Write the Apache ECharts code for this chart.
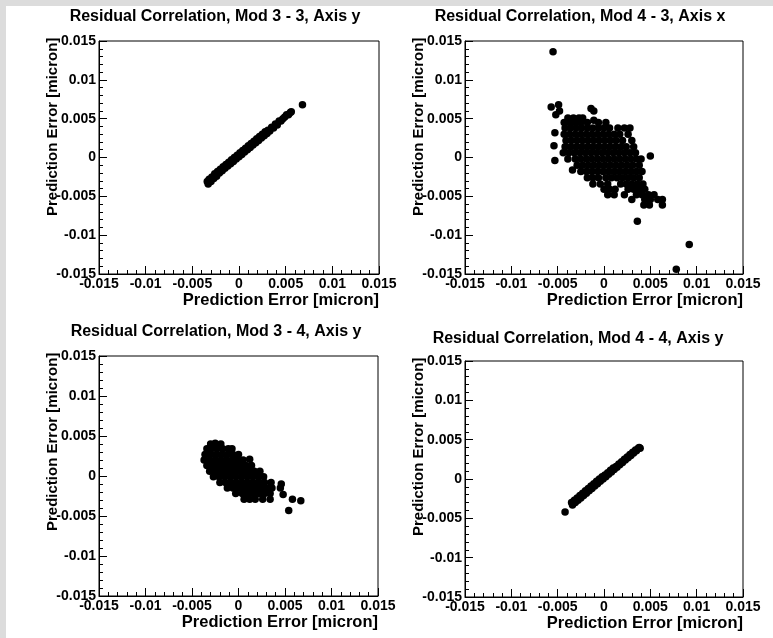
<!DOCTYPE html>
<html><head><meta charset="utf-8">
<script src="https://cdn.jsdelivr.net/npm/echarts@6/dist/echarts.min.js"></script>
<style>html,body{margin:0;padding:0;background:#fff;}#c{width:773px;height:638px;}</style>
</head><body><div id="c"></div>
<script>
var tickLabels = ['-0.015','-0.01','-0.005','0','0.005','0.01','0.015'];
var panelTitles = ['Residual Correlation, Mod 3 - 3, Axis y','Residual Correlation, Mod 4 - 3, Axis x','Residual Correlation, Mod 3 - 4, Axis y','Residual Correlation, Mod 4 - 4, Axis y'];
var axisTitle = 'Prediction Error [micron]';

var mod33y = [[-0.0034,-0.0031],[-0.0033,-0.0034],[-0.0032,-0.0028],[-0.0030,-0.0031],[-0.0029,-0.0025],[-0.0027,-0.0027],[-0.0026,-0.0021],[-0.0024,-0.0024],[-0.0023,-0.0018],[-0.0021,-0.0020],[-0.0020,-0.0015],[-0.0018,-0.0017],[-0.0017,-0.0012],[-0.0015,-0.0014],[-0.0014,-0.0009],[-0.0012,-0.0011],[-0.0011,-0.0006],[-0.0009,-0.0008],[-0.0008,-0.0003],[-0.0006,-0.0005],[-0.0005,0.0000],[-0.0003,-0.0002],[-0.0002,0.0003],[0.0000,0.0001],[0.0001,0.0006],[0.0003,0.0004],[0.0004,0.0009],[0.0006,0.0007],[0.0007,0.0012],[0.0009,0.0010],[0.0010,0.0015],[0.0012,0.0013],[0.0013,0.0018],[0.0015,0.0016],[0.0016,0.0021],[0.0018,0.0019],[0.0019,0.0024],[0.0021,0.0022],[0.0022,0.0027],[0.0024,0.0025],[0.0025,0.0030],[0.0027,0.0028],[0.0028,0.0033],[0.0030,0.0031],[0.0031,0.0035],[0.0033,0.0034],[0.0035,0.0039],[0.0037,0.0038],[0.0039,0.0043],[0.0041,0.0042],[0.0043,0.0047],[0.0045,0.0047],[0.0047,0.0050],[0.0049,0.0052],[0.0051,0.0055],[0.0053,0.0055],[0.0055,0.0058],[0.0056,0.0059],[0.0068,0.0068]];

var mod43x = [[-0.0055,0.0136],[-0.0057,0.0065],[-0.0049,0.0068],[-0.0052,0.0055],[-0.0048,0.0060],[-0.0053,0.0032],[-0.0054,0.0015],[-0.0053,-0.0004],[-0.0014,0.0063],[-0.0011,0.0060],[-0.0011,0.0048],[0.0050,0.0002],[0.0036,-0.0082],[0.0092,-0.0112],[0.0078,-0.0144],[-0.0034,-0.0016],
[-0.0039,0.0051],[-0.0033,0.0051],[-0.0027,0.0051],[-0.0023,0.0051],
[-0.0043,0.0045],[-0.0037,0.0045],[-0.0031,0.0045],[-0.0025,0.0045],[-0.0018,0.0045],[-0.0006,0.0045],[0.0002,0.0045],
[-0.0042,0.0038],[-0.0036,0.0038],[-0.0030,0.0038],[-0.0024,0.0038],[-0.0018,0.0038],[-0.0012,0.0038],[-0.0006,0.0038],[0.0000,0.0038],[0.0006,0.0038],[0.0015,0.0038],[0.0022,0.0038],[0.0028,0.0038],
[-0.0043,0.0030],[-0.0037,0.0030],[-0.0031,0.0030],[-0.0025,0.0030],[-0.0019,0.0030],[-0.0013,0.0030],[-0.0007,0.0030],[-0.0001,0.0030],[0.0005,0.0030],[0.0011,0.0030],[0.0017,0.0030],[0.0026,0.0030],
[-0.0041,0.0022],[-0.0035,0.0022],[-0.0029,0.0022],[-0.0023,0.0022],[-0.0017,0.0022],[-0.0011,0.0022],[-0.0005,0.0022],[0.0001,0.0022],[0.0007,0.0022],[0.0013,0.0022],[0.0020,0.0022],[0.0030,0.0022],
[-0.0042,0.0014],[-0.0036,0.0014],[-0.0030,0.0014],[-0.0024,0.0014],[-0.0018,0.0014],[-0.0012,0.0014],[-0.0006,0.0014],[0.0000,0.0014],[0.0006,0.0014],[0.0012,0.0014],[0.0018,0.0014],[0.0024,0.0014],[0.0032,0.0014],
[-0.0044,0.0006],[-0.0038,0.0006],[-0.0032,0.0006],[-0.0026,0.0006],[-0.0020,0.0006],[-0.0014,0.0006],[-0.0008,0.0006],[-0.0002,0.0006],[0.0004,0.0006],[0.0010,0.0006],[0.0016,0.0006],[0.0022,0.0006],[0.0028,0.0006],[0.0034,0.0006],
[-0.0039,-0.0002],[-0.0031,-0.0002],[-0.0025,-0.0002],[-0.0019,-0.0002],[-0.0013,-0.0002],[-0.0007,-0.0002],[-0.0001,-0.0002],[0.0005,-0.0002],[0.0011,-0.0002],[0.0017,-0.0002],[0.0023,-0.0002],[0.0029,-0.0002],[0.0035,-0.0002],[0.0040,-0.0002],
[-0.0029,-0.0010],[-0.0023,-0.0010],[-0.0017,-0.0010],[-0.0011,-0.0010],[-0.0005,-0.0010],[0.0001,-0.0010],[0.0007,-0.0010],[0.0013,-0.0010],[0.0019,-0.0010],[0.0025,-0.0010],[0.0031,-0.0010],[0.0038,-0.0010],
[-0.0025,-0.0018],[-0.0019,-0.0018],[-0.0013,-0.0018],[-0.0007,-0.0018],[-0.0001,-0.0018],[0.0005,-0.0018],[0.0011,-0.0018],[0.0017,-0.0018],[0.0023,-0.0018],[0.0029,-0.0018],[0.0035,-0.0018],[0.0041,-0.0018],
[-0.0018,-0.0026],[-0.0012,-0.0026],[-0.0006,-0.0026],[0.0002,-0.0026],[0.0008,-0.0026],[0.0014,-0.0026],[0.0020,-0.0026],[0.0026,-0.0026],[0.0032,-0.0026],[0.0038,-0.0026],
[-0.0012,-0.0034],[-0.0004,-0.0034],[0.0004,-0.0034],[0.0018,-0.0034],[0.0024,-0.0034],[0.0030,-0.0034],[0.0036,-0.0034],[0.0042,-0.0034],
[0.0000,-0.0041],[0.0006,-0.0041],[0.0012,-0.0041],[0.0026,-0.0041],[0.0032,-0.0041],[0.0038,-0.0041],[0.0044,-0.0041],
[0.0004,-0.0048],[0.0011,-0.0048],[0.0022,-0.0048],[0.0035,-0.0048],[0.0041,-0.0048],[0.0048,-0.0048],[0.0054,-0.0048],
[0.0030,-0.0054],[0.0044,-0.0054],[0.0050,-0.0054],[0.0058,-0.0054],[0.0063,-0.0054],
[0.0043,-0.0061],[0.0049,-0.0061],[0.0063,-0.0061]];

var mod34y = [[-0.0030,0.0040],[-0.0025,0.0041],[-0.0019,0.0040],
[-0.0034,0.0034],[-0.0029,0.0034],[-0.0023,0.0034],[-0.0017,0.0034],[-0.0011,0.0034],[-0.0007,0.0034],
[-0.0036,0.0027],[-0.0030,0.0027],[-0.0024,0.0027],[-0.0018,0.0027],[-0.0012,0.0027],[-0.0006,0.0027],[0.0000,0.0027],
[-0.0037,0.0020],[-0.0031,0.0020],[-0.0025,0.0020],[-0.0019,0.0020],[-0.0013,0.0020],[-0.0007,0.0020],[-0.0001,0.0020],[0.0005,0.0020],[0.0012,0.0021],
[-0.0034,0.0013],[-0.0028,0.0013],[-0.0022,0.0013],[-0.0016,0.0013],[-0.0010,0.0013],[-0.0004,0.0013],[0.0002,0.0013],[0.0008,0.0013],[0.0014,0.0013],
[-0.0031,0.0006],[-0.0025,0.0006],[-0.0019,0.0006],[-0.0013,0.0006],[-0.0007,0.0006],[-0.0001,0.0006],[0.0005,0.0006],[0.0011,0.0006],[0.0017,0.0006],[0.0023,0.0006],
[-0.0027,-0.0001],[-0.0021,-0.0001],[-0.0015,-0.0001],[-0.0009,-0.0001],[-0.0003,-0.0001],[0.0003,-0.0001],[0.0009,-0.0001],[0.0015,-0.0001],[0.0021,-0.0001],[0.0027,-0.0001],
[-0.0020,-0.0008],[-0.0014,-0.0008],[-0.0008,-0.0008],[-0.0002,-0.0008],[0.0004,-0.0008],[0.0010,-0.0008],[0.0016,-0.0008],[0.0022,-0.0008],[0.0028,-0.0008],[0.0035,-0.0008],
[-0.0012,-0.0015],[-0.0006,-0.0015],[0.0000,-0.0015],[0.0006,-0.0015],[0.0012,-0.0015],[0.0018,-0.0015],[0.0024,-0.0015],[0.0030,-0.0015],[0.0036,-0.0015],[0.0045,-0.0015],
[-0.0003,-0.0022],[0.0004,-0.0022],[0.0010,-0.0022],[0.0016,-0.0022],[0.0022,-0.0022],[0.0028,-0.0022],[0.0034,-0.0022],[0.0048,-0.0023],
[0.0006,-0.0029],[0.0012,-0.0029],[0.0018,-0.0029],[0.0026,-0.0029],[0.0034,-0.0029],[0.0058,-0.0029],
[0.0067,-0.0031],[0.0054,-0.0043],[0.0046,-0.0010]];

var mod44y = [[-0.0042,-0.0042],[-0.0035,-0.0030],[-0.0034,-0.0033],[-0.0032,-0.0027],[-0.0031,-0.0030],[-0.0029,-0.0024],[-0.0028,-0.0027],[-0.0026,-0.0021],[-0.0025,-0.0024],[-0.0023,-0.0018],[-0.0022,-0.0021],[-0.0020,-0.0015],[-0.0019,-0.0018],[-0.0017,-0.0012],[-0.0016,-0.0015],[-0.0014,-0.0009],[-0.0013,-0.0012],[-0.0011,-0.0006],[-0.0010,-0.0009],[-0.0008,-0.0003],[-0.0007,-0.0006],[-0.0005,0.0000],[-0.0004,-0.0003],[-0.0002,0.0003],[-0.0001,0.0000],[0.0001,0.0005],[0.0002,0.0003],[0.0004,0.0008],[0.0005,0.0006],[0.0007,0.0011],[0.0008,0.0009],[0.0010,0.0014],[0.0011,0.0012],[0.0013,0.0016],[0.0014,0.0015],[0.0016,0.0019],[0.0017,0.0018],[0.0019,0.0022],[0.0020,0.0021],[0.0022,0.0025],[0.0023,0.0024],[0.0025,0.0028],[0.0026,0.0027],[0.0028,0.0031],[0.0029,0.0030],[0.0031,0.0034],[0.0032,0.0033],[0.0034,0.0037],[0.0035,0.0036],[0.0037,0.0039],[0.0038,0.0040],[0.0039,0.0039]];

var panelData = [mod33y, mod43x, mod34y, mod44y];
var grids = [
  {left:99, top:41, width:280, height:233},
  {left:465, top:41, width:278, height:233},
  {left:99, top:356, width:279, height:240},
  {left:465, top:361, width:278, height:236}
];
var titlePos = [[210,4],[575,4],[211,319],[573,326]];

var FONT = 'Liberation Sans';
function lbl(v, i){ return tickLabels[i]; }
var opt = {
  backgroundColor:'#fff', animation:false,
  graphic:[
    {type:'rect', shape:{x:0,y:0,width:773,height:6}, style:{fill:'#dcdcdc'}, silent:true},
    {type:'rect', shape:{x:0,y:0,width:6,height:638}, style:{fill:'#dcdcdc'}, silent:true}
  ],
  title:[], grid:[], xAxis:[], yAxis:[], series:[]
};
for (var i=0;i<4;i++){
  var g = grids[i];
  opt.grid.push({left:g.left, top:g.top, width:g.width, height:g.height, show:true, borderColor:'#000', borderWidth:1, backgroundColor:'#fff', containLabel:false, outerBoundsMode:'none'});
  opt.title.push({text:panelTitles[i], left:titlePos[i][0], top:titlePos[i][1], textAlign:'center', textStyle:{fontFamily:FONT, fontSize:16, fontWeight:'bold', color:'#000'}});
  var common = {gridIndex:i, type:'value', min:-0.015, max:0.015, interval:0.005,
    axisLine:{show:true, onZero:false, lineStyle:{color:'#000', width:1}},
    axisTick:{show:true, inside:true, length:8, lineStyle:{color:'#000'}},
    minorTick:{show:true, splitNumber:5, length:4, lineStyle:{color:'#000'}},
    splitLine:{show:false}, minorSplitLine:{show:false},
    name: axisTitle, nameLocation:'end', nameGap:0, nameMoveOverlap:false};
  var xa = echarts.util.merge({}, common, true);
  xa.axisLabel = {show:true, color:'#000', fontFamily:FONT, fontSize:14, fontWeight:'bold', margin:3, formatter:lbl, showMinLabel:true, showMaxLabel:true, hideOverlap:false};
  xa.nameTextStyle = {fontFamily:FONT, fontSize:16.5, fontWeight:'bold', color:'#000', align:'right', verticalAlign:'top', padding:[18,0,0,0]};
  var ya = echarts.util.merge({}, common, true);
  ya.axisLabel = {show:true, color:'#000', fontFamily:FONT, fontSize:14, fontWeight:'bold', margin:3, formatter:lbl, showMinLabel:true, showMaxLabel:true, hideOverlap:false};
  ya.nameRotate = 90; ya.nameGap = -175;
  ya.nameTextStyle = {fontFamily:FONT, fontSize:15, fontWeight:'bold', color:'#000', verticalAlign:'bottom', padding:[0,0,39,0]};
  opt.xAxis.push(xa); opt.yAxis.push(ya);
  opt.series.push({type:'scatter', xAxisIndex:i, yAxisIndex:i, data:panelData[i], symbol:'circle', symbolSize:7.5, itemStyle:{color:'#000', opacity:1}, silent:true});
}
var chart = echarts.init(document.getElementById('c'), null, {renderer:'canvas'});
chart.setOption(opt);
</script></body></html>
